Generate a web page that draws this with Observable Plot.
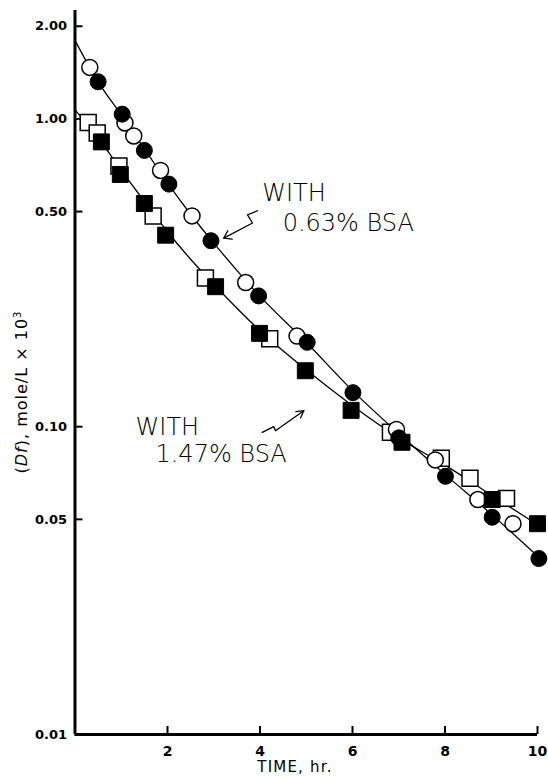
<!DOCTYPE html>
<html><head><meta charset="utf-8">
<script src="https://cdn.jsdelivr.net/npm/d3@7"></script>
<script src="https://cdn.jsdelivr.net/npm/@observablehq/plot@0.6"></script>
<style>body{margin:0;background:#fff}#chart{width:548px;height:782px}</style>
</head><body><div id="chart"></div>
<script>
// Tick values
const yTicks = [2, 1, 0.5, 0.1, 0.05, 0.01];
const xTicks = [2, 4, 6, 8, 10];

// 0.63% BSA series (circles)
const openCircleT = [0.32, 1.08, 1.27, 1.85, 2.53, 3.69, 4.80, 6.95, 7.79, 8.71, 9.47];
const openCircleV = [1.47, 0.97, 0.88, 0.68, 0.484, 0.294, 0.197, 0.098, 0.078, 0.058, 0.0484];
const filledCircleT = [0.50, 1.02, 1.50, 2.03, 2.94, 3.97, 5.02, 6.01, 7.00, 8.01, 9.02, 10.03];
const filledCircleV = [1.32, 1.036, 0.79, 0.614, 0.402, 0.266, 0.188, 0.129, 0.092, 0.069, 0.0508, 0.0373];
const circleCurveT = [0, 0.5, 1, 1.5, 2, 2.5, 3, 4, 5, 6, 7, 8, 9, 10];
const circleCurveV = [1.80, 1.32, 1.03, 0.80, 0.62, 0.49, 0.395, 0.265, 0.188, 0.131, 0.095, 0.070, 0.052, 0.038];

// 1.47% BSA series (squares)
const openSquareT = [0.285, 0.48, 0.95, 1.69, 2.82, 4.21, 6.82, 7.92, 8.54, 9.33];
const openSquareV = [0.973, 0.90, 0.703, 0.484, 0.304, 0.193, 0.096, 0.079, 0.068, 0.0585];
const filledSquareT = [0.57, 0.98, 1.50, 1.96, 3.04, 3.99, 4.98, 5.97, 7.07, 9.02, 10.0];
const filledSquareV = [0.842, 0.66, 0.531, 0.419, 0.285, 0.201, 0.152, 0.113, 0.089, 0.058, 0.0484];
const squareCurveT = [0, 0.5, 1, 1.5, 2, 2.5, 3, 4, 5, 6, 7, 8, 9, 10];
const squareCurveV = [1.07, 0.87, 0.68, 0.54, 0.43, 0.35, 0.29, 0.205, 0.153, 0.117, 0.092, 0.075, 0.060, 0.048];

// Annotations (data coordinates)
const annoText = ["WITH", "0.63% BSA", "WITH", "1.47% BSA"];
const annoT = [4.05, 4.49, 1.31, 1.74];
const annoV = [0.571, 0.459, 0.0995, 0.0815];
const arrow1T = [3.946, 3.730, 3.838, 3.217];
const arrow1V = [0.503, 0.488, 0.459, 0.410];
const head1T = [3.304, 3.217, 3.399];
const head1V = [0.433, 0.410, 0.407];
const arrow2T = [4.048, 4.298, 4.335, 4.947];
const arrow2V = [0.0958, 0.1000, 0.0970, 0.1127];
const head2T = [4.776, 4.947, 4.876];
const head2V = [0.1119, 0.1127, 0.1067];

const pts = (T, V) => T.map((t, i) => ({t, v: V[i]}));
const annos = annoText.map((s, i) => ({s, t: annoT[i], v: annoV[i]}));

const annoFont = {fontFamily: "'DejaVu Sans ExtraLight', 'DejaVu Sans'", fontWeight: 200, fontSize: 24};

const plot = Plot.plot({
  width: 548, height: 782,
  marginLeft: 74.5, marginRight: 11, marginTop: 10, marginBottom: 48,
  style: {background: "#fff", fontFamily: "DejaVu Sans", color: "#000"},
  x: {domain: [0, 10]},
  y: {type: "log", domain: [0.01, 2.25]},
  marks: [
    Plot.axisY(yTicks, {tickSize: -8, tickPadding: 16, strokeWidth: 2, tickFormat: d3.format(".2f"), fontSize: 13, fontWeight: "bold", label: null}),
    Plot.axisX(xTicks, {tickSize: -8, tickPadding: 20, strokeWidth: 2, tickFormat: d3.format("d"), fontSize: 14, fontWeight: 600, label: null}),
    Plot.ruleX([0], {strokeWidth: 3}),
    Plot.ruleY([0.01], {strokeWidth: 3}),
    Plot.line(pts(circleCurveT, circleCurveV), {x: "t", y: "v", curve: "catmull-rom", strokeWidth: 1.3}),
    Plot.line(pts(squareCurveT, squareCurveV), {x: "t", y: "v", curve: "catmull-rom", strokeWidth: 1.3}),
    Plot.dot(pts(openSquareT, openSquareV), {x: "t", y: "v", symbol: "square", r: 9, fill: "#fff", stroke: "#000", strokeWidth: 1.5}),
    Plot.dot(pts(openCircleT, openCircleV), {x: "t", y: "v", r: 8, fill: "#fff", stroke: "#000", strokeWidth: 1.5}),
    Plot.dot(pts(filledSquareT, filledSquareV), {x: "t", y: "v", symbol: "square", r: 9, fill: "#000", stroke: "#000", strokeWidth: 1}),
    Plot.dot(pts(filledCircleT, filledCircleV), {x: "t", y: "v", r: 8, fill: "#000", stroke: "#000", strokeWidth: 1}),
    Plot.text(annos, {x: "t", y: "v", text: "s", textAnchor: "start", ...annoFont}),
    Plot.line(pts(arrow1T, arrow1V), {x: "t", y: "v", strokeWidth: 1.3}),
    Plot.line(pts(head1T, head1V), {x: "t", y: "v", strokeWidth: 1.3}),
    Plot.line(pts(arrow2T, arrow2V), {x: "t", y: "v", strokeWidth: 1.3}),
    Plot.line(pts(head2T, head2V), {x: "t", y: "v", strokeWidth: 1.3})
  ]
});
document.getElementById("chart").appendChild(plot);

const svg = d3.select(plot);
const yl = svg.append("text")
  .attr("transform", "translate(27,392) rotate(-90)")
  .attr("text-anchor", "middle")
  .attr("font-family", "DejaVu Sans")
  .attr("font-size", 16)
  .attr("letter-spacing", 1)
  .attr("fill", "#000");
yl.append("tspan").text("(");
yl.append("tspan").attr("font-style", "italic").text("Df");
yl.append("tspan").text("), mole/L × 10");
yl.append("tspan").attr("font-size", 10).attr("dy", -6).text("3");

svg.append("text")
  .attr("x", 295).attr("y", 772)
  .attr("text-anchor", "middle")
  .attr("font-family", "DejaVu Sans")
  .attr("font-size", 15)
  .attr("letter-spacing", 1.2)
  .attr("fill", "#000")
  .text("TIME, hr.");
</script>
</body></html>
